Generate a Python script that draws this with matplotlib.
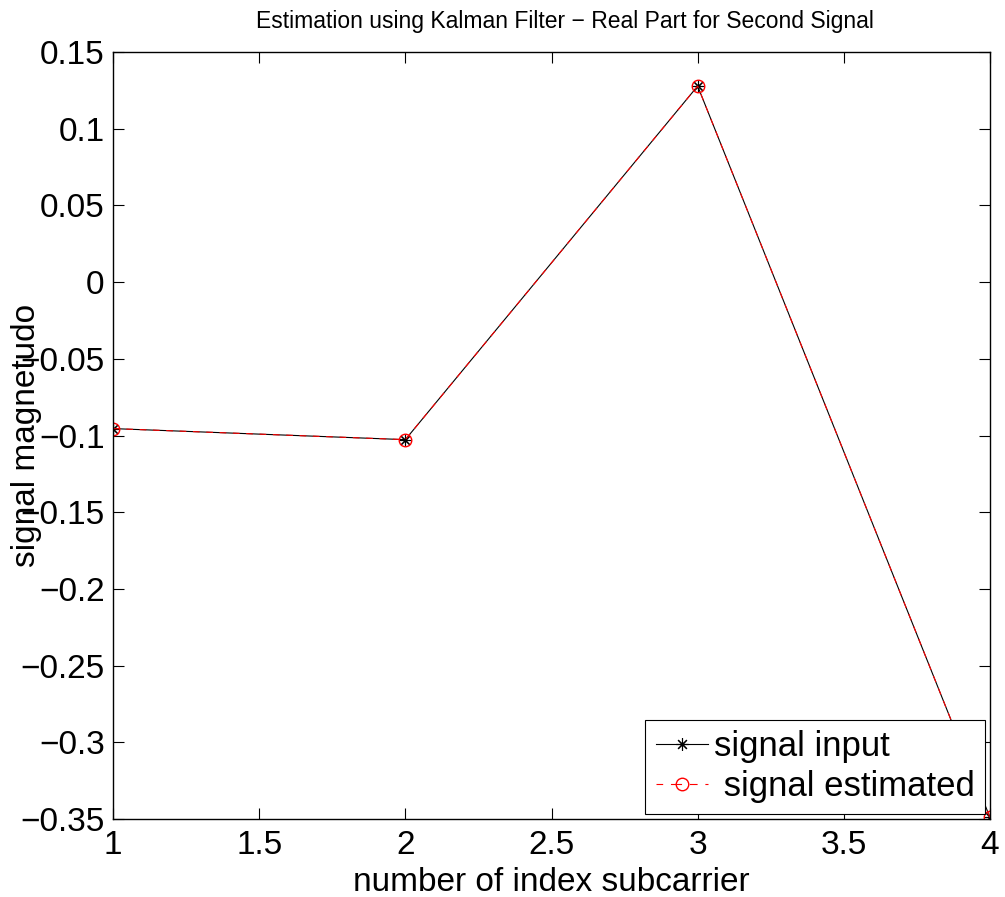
import matplotlib
matplotlib.use("Agg")
import matplotlib.pyplot as plt
from matplotlib.lines import Line2D

plt.rcParams['font.family'] = ['Liberation Sans', 'DejaVu Sans']

subcarrier = [1, 2, 3, 4]
signal_input = [-0.0955, -0.1027, 0.1278, -0.3490]
signal_estimated = [-0.0955, -0.1027, 0.1278, -0.3490]
yticks = [0.15, 0.1, 0.05, 0, -0.05, -0.1, -0.15, -0.2, -0.25, -0.3, -0.35]
xticks = [1, 1.5, 2, 2.5, 3, 3.5, 4]

fig = plt.figure(figsize=(10.05, 8.97), dpi=100)
ax = fig.add_axes([113 / 1005, 1 - 819 / 897, (990 - 113) / 1005, (819 - 52) / 897])

# matlab style '*' marker
star = (8, 2, 0)
ax.plot(subcarrier, signal_input, 'k-', marker=star, markersize=9, linewidth=0.8,
        markeredgewidth=0.8)
ax.plot(subcarrier, signal_estimated, 'r--', marker='o', markersize=9,
        markerfacecolor='none', markeredgewidth=1.0, linewidth=0.8, dashes=(6, 6))

ax.set_xlim(1, 4)
ax.set_ylim(-0.35, 0.15)
ax.set_xticks(xticks)
ax.set_xticklabels(['%g' % v for v in xticks])
ax.set_yticks(yticks)
ax.set_yticklabels([('%g' % v).replace('-', '\u2212') for v in yticks])
ax.tick_params(direction='in', length=8, width=0.8, labelsize=24,
               top=True, right=True)
ax.tick_params(axis='y', pad=6)
ax.tick_params(axis='x', pad=8)
for s in ax.spines.values():
    s.set_linewidth(1.0)

ax.set_title('Estimation using Kalman Filter \u2212 Real Part for Second Signal',
             fontsize=16.5, pad=17, x=0.515)
ax.set_xlabel('number of index subcarrier', fontsize=24, labelpad=4)
ax.set_ylabel('signal magnetudo', fontsize=24)
ax.yaxis.set_label_coords(-0.081, 0.5)

# legend entries drawn like the matlab legend
h_in = Line2D([], [], color='k', linewidth=0.8, marker=star, markersize=9,
              markeredgewidth=0.8)
h_est = Line2D([], [], color='r', linewidth=0.8, linestyle='--',
               dashes=(6, 7, 10, 7, 7, 7),
               marker='o', markersize=9, markerfacecolor='none', markeredgewidth=1.0)
leg = ax.legend([h_in, h_est], ['signal input', ' signal estimated'],
                loc='lower right', fontsize=25, fancybox=False, edgecolor='k',
                framealpha=1, borderpad=0.3, handlelength=1.5, handletextpad=0.17,
                borderaxespad=0.15, labelspacing=0.2)
leg.get_frame().set_linewidth(0.8)

fig.savefig('out.png', dpi=100)
